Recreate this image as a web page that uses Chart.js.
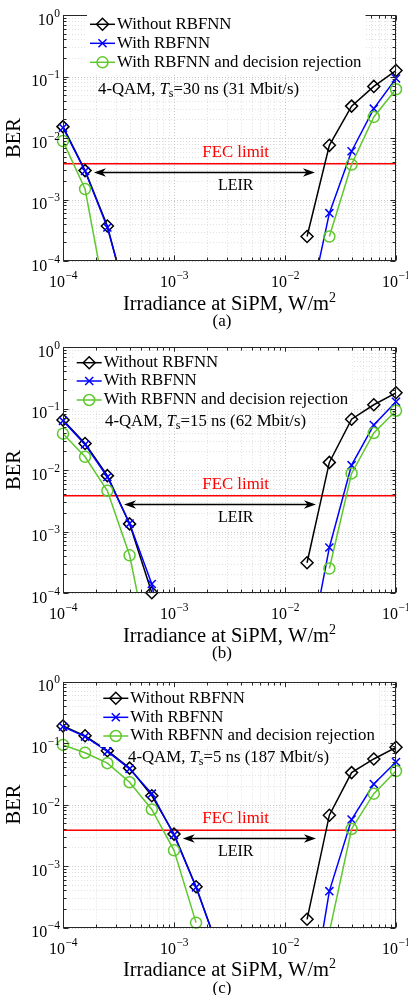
<!DOCTYPE html>
<html>
<head>
<meta charset="utf-8">
<script src="https://cdn.jsdelivr.net/npm/chart.js@4.4.1/dist/chart.umd.min.js"></script>
<style>
html,body{margin:0;padding:0;background:#fff;}
#fig{position:relative;width:408px;height:995px;overflow:hidden;background:#fff;}
.panel{position:absolute;left:0;width:408px;}
canvas{display:block;}
</style>
</head>
<body>
<div id="fig">
  <div class="panel" style="top:0px;height:330px"><canvas id="cA" width="408" height="330"></canvas></div>
  <div class="panel" style="top:330px;height:335px"><canvas id="cB" width="408" height="335"></canvas></div>
  <div class="panel" style="top:665px;height:330px"><canvas id="cC" width="408" height="330"></canvas></div>
</div>
<script>
// ---------------- DATA ----------------
const irradiance = [1.0e-4, 1.58e-4, 2.51e-4, 3.98e-4, 6.31e-4, 1.0e-3, 1.58e-3, 2.51e-3,
                    3.98e-3, 6.31e-3, 1.0e-2, 1.58e-2, 2.51e-2, 3.98e-2, 6.31e-2, 1.0e-1];
const seriesNames = ['Without RBFNN', 'With RBFNN', 'With RBFNN and decision rejection'];

// (a) 4-QAM, Ts = 30 ns
const berA_without = [1.53e-2, 2.95e-3, 3.7e-4, 1.6e-5, null, null, null, null, null, null, null, 2.5e-4, 7.6e-3, 3.3e-2, 6.9e-2, 1.25e-1];
const berA_rbfnn   = [1.47e-2, 2.9e-3, 3.5e-4, 1.7e-5, null, null, null, null, null, null, null, 1.2e-5, 6.0e-4, 6.1e-3, 3.0e-2, 9.3e-2];
const berA_reject  = [8.9e-3, 1.48e-3, 1.7e-5, null, null, null, null, null, null, null, null, null, 2.5e-4, 3.7e-3, 2.2e-2, 6.2e-2];

// (b) 4-QAM, Ts = 15 ns
const berB_without = [6.5e-2, 2.7e-2, 8.1e-3, 1.33e-3, 1.01e-4, null, null, null, null, null, null, 3.1e-4, 1.33e-2, 6.7e-2, 1.15e-1, 1.8e-1];
const berB_rbfnn   = [6.3e-2, 2.6e-2, 7.7e-3, 1.35e-3, 1.4e-4, 2.0e-6, null, null, null, null, null, 7.0e-6, 5.5e-4, 1.2e-2, 5.4e-2, 1.29e-1];
const berB_reject  = [3.9e-2, 1.64e-2, 4.6e-3, 4.1e-4, 7.0e-6, null, null, null, null, null, null, null, 2.5e-4, 8.8e-3, 4.0e-2, 9.2e-2];

// (c) 4-QAM, Ts = 5 ns
const berC_without = [1.89e-1, 1.31e-1, 7.5e-2, 3.9e-2, 1.39e-2, 3.3e-3, 4.6e-4, 4.5e-5, null, null, null, 1.36e-4, 6.7e-3, 3.3e-2, 5.5e-2, 8.5e-2];
const berC_rbfnn   = [1.84e-1, 1.27e-1, 7.3e-2, 3.8e-2, 1.5e-2, 3.2e-3, 4.5e-4, 4.4e-5, null, null, null, 2.6e-6, 3.9e-4, 5.7e-3, 2.15e-2, 4.9e-2];
const berC_reject  = [9.3e-2, 6.95e-2, 4.7e-2, 2.3e-2, 8.3e-3, 1.8e-3, 1.2e-4, null, null, null, null, null, 8.5e-5, 4.0e-3, 1.5e-2, 3.5e-2];

const fecLimit = 3.8e-3;
const leirBER = 2.8e-3;
const leirFrom = [1.9e-4, 3.55e-4, 1.2e-3];
const leirTo   = [1.86e-2, 1.9e-2, 1.9e-2];
const symbolPeriods = ['30', '15', '5'];
const bitRates = ['31', '62', '187'];
const panelTags = ['(a)', '(b)', '(c)'];
const xTickExps = [-4, -3, -2, -1];
const yTickExps = [-4, -3, -2, -1, 0];
const X_MIN = 1e-4, X_MAX = 1e-1, Y_MIN = 1e-4, Y_MAX = 1;

// ---------------- LAYOUT / STYLE ----------------
const panelSeries = [
  [berA_without, berA_rbfnn, berA_reject],
  [berB_without, berB_rbfnn, berB_reject],
  [berC_without, berC_rbfnn, berC_reject]
];
const layoutCfg = [
  {h:330, top:15,   bottom:261,   legX:90,    legRows:[24.3, 43.3, 62.3], annX:98,  annY:90},
  {h:335, top:17,   bottom:263,   legX:76.7,  legRows:[32.7, 51.0, 70.0], annX:105, annY:91.7},
  {h:330, top:16.5, bottom:262.5, legX:103.3, legRows:[33.3, 52.3, 71.0], annX:128, annY:93}
];
const PLOT_LEFT = 63, PLOT_RIGHT = 396;
const colors = ['#000000', '#0000ff', '#5ec82d'];
const pStyles = ['rectRot', 'crossRot', 'circle'];
const pRadii = [6, 5.7, 5.5];
const FONT = "'Liberation Serif', 'Times New Roman', serif";
const AX = '#262626';
function fnt(size, style) { return (style ? style + ' ' : '') + size + 'px ' + FONT; }

function decadeTicks(e0, e1) {
  const major = [], minor = [];
  for (let e = e0; e <= e1; e++) {
    major.push(Math.pow(10, e));
    if (e < e1) for (let m = 2; m <= 9; m++) minor.push(m * Math.pow(10, e));
  }
  return {major, minor};
}
const gx = decadeTicks(-4, -1), gy = decadeTicks(-4, 0);

function drawGrid(chart) {
  const {ctx, chartArea: a, scales} = chart;
  ctx.save();
  ctx.lineWidth = 1;
  ctx.setLineDash([1, 2]);
  const pass = (vals, col) => {
    ctx.strokeStyle = col;
    ctx.beginPath();
    vals.x.forEach(v => { const px = Math.round(scales.x.getPixelForValue(v)) + 0.5; ctx.moveTo(px, a.top); ctx.lineTo(px, a.bottom); });
    vals.y.forEach(v => { const py = Math.round(scales.y.getPixelForValue(v)) + 0.5; ctx.moveTo(a.left, py); ctx.lineTo(a.right, py); });
    ctx.stroke();
  };
  pass({x: gx.minor, y: gy.minor}, '#e2e2e2');
  pass({x: gx.major, y: gy.major}, '#c8c8c8');
  ctx.restore();
}

function drawFrame(chart) {
  const {ctx, chartArea: a, scales} = chart;
  ctx.save();
  ctx.strokeStyle = AX;
  ctx.lineWidth = 1;
  const L = Math.round(a.left) + 0.5, R = Math.round(a.right) - 0.5, T = Math.round(a.top) + 0.5, B = Math.round(a.bottom) - 0.5;
  ctx.strokeRect(L, T, R - L, B - T);
  ctx.beginPath();
  const tick = (vals, len, isX) => vals.forEach(v => {
    if (isX) {
      const px = Math.round(scales.x.getPixelForValue(v)) + 0.5;
      ctx.moveTo(px, B); ctx.lineTo(px, B - len);
      ctx.moveTo(px, T); ctx.lineTo(px, T + len);
    } else {
      const py = Math.round(scales.y.getPixelForValue(v)) + 0.5;
      ctx.moveTo(L, py); ctx.lineTo(L + len, py);
      ctx.moveTo(R, py); ctx.lineTo(R - len, py);
    }
  });
  tick(gx.minor, 3, true); tick(gx.major, 5, true);
  tick(gy.minor, 3, false); tick(gy.major, 5, false);
  ctx.stroke();
  ctx.restore();
}

function powLabel(ctx, e, x, y, align) {
  const base = '10', ex = (e < 0 ? '\u2212' + (-e) : String(e));
  ctx.font = fnt(16); const wb = ctx.measureText(base).width;
  ctx.font = fnt(11.5); const we = ctx.measureText(ex).width;
  const tot = wb + we;
  const x0 = align === 'center' ? x - tot / 2 : x - tot;
  ctx.textAlign = 'left'; ctx.textBaseline = 'alphabetic';
  ctx.font = fnt(16); ctx.fillText(base, x0, y);
  ctx.font = fnt(11.5); ctx.fillText(ex, x0 + wb + 0.5, y - 8);
}

function richText(ctx, parts, x, y, align) {
  let tot = 0;
  parts.forEach(p => { ctx.font = p.font; p.w = ctx.measureText(p.t).width; tot += p.w; });
  let cx = align === 'center' ? x - tot / 2 : x;
  ctx.textAlign = 'left';
  parts.forEach(p => { ctx.font = p.font; ctx.fillText(p.t, cx, y + (p.dy || 0)); cx += p.w; });
}

function marker(ctx, k, x, y) {
  const r = pRadii[k];
  ctx.beginPath();
  if (k === 0) { ctx.moveTo(x - r, y); ctx.lineTo(x, y - r); ctx.lineTo(x + r, y); ctx.lineTo(x, y + r); ctx.closePath(); }
  else if (k === 1) { const d = r * Math.SQRT1_2; ctx.moveTo(x - d, y - d); ctx.lineTo(x + d, y + d); ctx.moveTo(x + d, y - d); ctx.lineTo(x - d, y + d); }
  else { ctx.arc(x, y, r, 0, Math.PI * 2); }
  ctx.stroke();
}

function arrowHead(ctx, xt, y, dir) {
  const L = 12, W = 4.3, N = 8.5;
  ctx.beginPath();
  ctx.moveTo(xt, y);
  ctx.lineTo(xt + dir * L, y - W);
  ctx.lineTo(xt + dir * N, y);
  ctx.lineTo(xt + dir * L, y + W);
  ctx.closePath();
  ctx.fill();
}

function drawTexts(chart, p) {
  const {ctx, chartArea: a, scales} = chart;
  const cfg = layoutCfg[p];
  ctx.save();
  ctx.fillStyle = '#000';
  // tick labels
  xTickExps.forEach(e => powLabel(ctx, e, scales.x.getPixelForValue(Math.pow(10, e)), a.bottom + 26, 'center'));
  yTickExps.forEach(e => powLabel(ctx, e, 59.5, scales.y.getPixelForValue(Math.pow(10, e)) + 9.5, 'right'));
  // x title
  ctx.textBaseline = 'alphabetic';
  richText(ctx, [{t: 'Irradiance at SiPM, W/m', font: fnt(20.5)}, {t: '2', font: fnt(14), dy: -8}], (a.left + a.right) / 2, a.bottom + 48.5, 'center');
  // caption
  ctx.font = fnt(17); ctx.textAlign = 'center';
  ctx.fillText(panelTags[p], 222, a.bottom + 65);
  // y title
  ctx.save();
  ctx.translate(15, (a.top + a.bottom) / 2);
  ctx.rotate(-Math.PI / 2);
  ctx.font = fnt(20.5); ctx.textAlign = 'center'; ctx.textBaseline = 'middle';
  ctx.fillText('BER', 0, 0);
  ctx.restore();

  // FEC label
  const fecY = scales.y.getPixelForValue(fecLimit);
  const midX = a.left + 172.7;
  ctx.fillStyle = '#ff0000';
  ctx.font = fnt(16.8); ctx.textAlign = 'center'; ctx.textBaseline = 'middle';
  ctx.fillText('FEC limit', midX, fecY - 11.5);

  // LEIR arrow
  const ay = Math.round(scales.y.getPixelForValue(leirBER)) + 0.5;
  const x1 = scales.x.getPixelForValue(leirFrom[p]), x2 = scales.x.getPixelForValue(leirTo[p]);
  ctx.strokeStyle = '#000'; ctx.fillStyle = '#000'; ctx.lineWidth = 1.5;
  ctx.beginPath(); ctx.moveTo(x1 + 8, ay); ctx.lineTo(x2 - 8, ay); ctx.stroke();
  arrowHead(ctx, x1, ay, 1); arrowHead(ctx, x2, ay, -1);
  ctx.font = fnt(16); ctx.textAlign = 'center'; ctx.textBaseline = 'middle';
  ctx.fillText('LEIR', midX, ay + 13.5);

  // legend
  ctx.font = fnt(16.8);
  let maxW = 0;
  seriesNames.forEach(n => { maxW = Math.max(maxW, ctx.measureText(n).width); });
  const lx = cfg.legX, tx = lx + 27;
  ctx.fillStyle = '#fff';
  ctx.fillRect(lx - 3, cfg.legRows[0] - 11, tx + maxW + 4 - (lx - 3), cfg.legRows[2] - cfg.legRows[0] + 22);
  seriesNames.forEach((n, k) => {
    const y = cfg.legRows[k];
    ctx.strokeStyle = colors[k]; ctx.lineWidth = 1.5;
    ctx.beginPath(); ctx.moveTo(lx, y); ctx.lineTo(lx + 25, y); ctx.stroke();
    marker(ctx, k, lx + 12.5, y);
    ctx.fillStyle = '#000'; ctx.textAlign = 'left'; ctx.textBaseline = 'middle';
    ctx.font = fnt(16.8);
    ctx.fillText(n, tx, y);
  });

  // annotation
  ctx.fillStyle = '#000'; ctx.textBaseline = 'middle';
  richText(ctx, [
    {t: '4-QAM, ', font: fnt(16.8)},
    {t: 'T', font: fnt(16.8, 'italic')},
    {t: 's', font: fnt(12), dy: 4},
    {t: '=' + symbolPeriods[p] + ' ns (' + bitRates[p] + ' Mbit/s)', font: fnt(16.8)}
  ], cfg.annX, cfg.annY, 'left');
  ctx.restore();
}

function buildDatasets(series) {
  const ds = [{
    data: [{x: irradiance[0], y: fecLimit}, {x: irradiance[irradiance.length - 1], y: fecLimit}],
    borderColor: '#ff0000', borderWidth: 1.5, pointRadius: 0, order: 20
  }];
  series.forEach((arr, k) => {
    const pts = irradiance.map((x, i) => ({x: x, y: arr[i]}));
    ds.push({data: pts, borderColor: colors[k], borderWidth: 1.5, pointRadius: 0, spanGaps: false, tension: 0, order: 19 - 2 * k});
    ds.push({
      data: pts, showLine: false, clip: false, pointStyle: pStyles[k],
      pointRadius: c => (c.raw && c.raw.y != null && c.raw.y >= Y_MIN * 0.999) ? pRadii[k] : 0,
      pointBorderColor: colors[k], pointBackgroundColor: 'rgba(0,0,0,0)', pointBorderWidth: 1.5,
      order: 18 - 2 * k
    });
  });
  return ds;
}

['cA', 'cB', 'cC'].forEach((id, p) => {
  const cfg = layoutCfg[p];
  new Chart(document.getElementById(id), {
    type: 'line',
    data: {datasets: buildDatasets(panelSeries[p])},
    options: {
      responsive: false, animation: false, events: [], devicePixelRatio: 1,
      layout: {padding: {left: PLOT_LEFT, right: 408 - PLOT_RIGHT, top: cfg.top, bottom: cfg.h - cfg.bottom}},
      scales: {
        x: {type: 'logarithmic', min: X_MIN, max: X_MAX, display: false},
        y: {type: 'logarithmic', min: Y_MIN, max: Y_MAX, display: false}
      },
      plugins: {legend: {display: false}, tooltip: {enabled: false}}
    },
    plugins: [{
      id: 'deco' + p,
      beforeDatasetsDraw(chart) { drawGrid(chart); },
      afterDatasetsDraw(chart) { drawFrame(chart); drawTexts(chart, p); }
    }]
  });
});
</script>
</body>
</html>
